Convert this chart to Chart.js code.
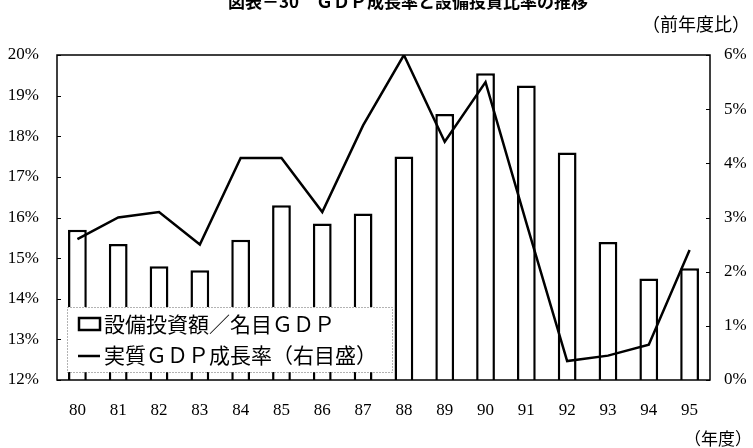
<!DOCTYPE html>
<html>
<head>
<meta charset="utf-8">
<script src="https://cdn.jsdelivr.net/npm/chart.js@4/dist/chart.umd.min.js"></script>
<style>
  html, body { margin: 0; padding: 0; background: #fff; }
  #wrap { width: 753px; height: 448px; position: relative; }
</style>
</head>
<body>
<div id="wrap"><canvas id="chart" width="753" height="448"></canvas></div>
<script>
'use strict';

// fiscal years (19xx)
const YEARS = ['80', '81', '82', '83', '84', '85', '86', '87', '88', '89', '90', '91', '92', '93', '94', '95'];
// 設備投資額／名目GDP (%), left axis
const INVEST_RATIO = [15.7, 15.35, 14.8, 14.7, 15.45, 16.3, 15.85, 16.1, 17.5, 18.55, 19.55, 19.25, 17.6, 15.4, 14.5, 14.75];
// 実質GDP成長率 (%), right axis
const REAL_GDP_GROWTH = [2.6, 3.0, 3.1, 2.5, 4.1, 4.1, 3.1, 4.7, 6.0, 4.4, 5.5, 2.9, 0.35, 0.45, 0.65, 2.4];

const LEFT_TICKS = [12, 13, 14, 15, 16, 17, 18, 19, 20];
const RIGHT_TICKS = [0, 1, 2, 3, 4, 5, 6];

const TITLE = '図表－30　ＧＤＰ成長率と設備投資比率の推移';
const UNIT_TOP = '（前年度比）';
const UNIT_BOTTOM = '（年度）';
const LEGEND_BAR = '設備投資額／名目ＧＤＰ';
const LEGEND_LINE = '実質ＧＤＰ成長率（右目盛）';

const JP_FONT = '"Noto Sans CJK JP", "Noto Sans", sans-serif';
const NUM_FONT = '"Liberation Serif", "DejaVu Serif", serif';

const frameAndLabels = {
  id: 'frameAndLabels',
  afterDatasetsDraw(chart) {
    const { ctx, chartArea: a, scales } = chart;
    ctx.save();

    // plot frame
    ctx.strokeStyle = '#000';
    ctx.lineWidth = 1.5;
    ctx.strokeRect(a.left, a.top, a.right - a.left, a.bottom - a.top);

    // inner tick marks
    ctx.lineWidth = 1;
    for (const v of LEFT_TICKS) {
      const y = Math.round(scales.y.getPixelForValue(v)) + 0.5;
      ctx.beginPath();
      ctx.moveTo(a.left, y);
      ctx.lineTo(a.left + 4, y);
      ctx.stroke();
    }
    for (const v of RIGHT_TICKS) {
      const y = Math.round(scales.y1.getPixelForValue(v)) + 0.5;
      ctx.beginPath();
      ctx.moveTo(a.right, y);
      ctx.lineTo(a.right - 4, y);
      ctx.stroke();
    }

    // legend box
    const bx = 67, by = 307, bw = 325, bh = 65;
    ctx.fillStyle = '#fff';
    ctx.fillRect(bx, by, bw, bh);
    ctx.strokeStyle = '#666';
    ctx.setLineDash([1, 2]);
    ctx.strokeRect(bx + 0.5, by + 0.5, bw, bh);
    ctx.setLineDash([]);

    ctx.strokeStyle = '#000';
    ctx.lineWidth = 2.5;
    ctx.strokeRect(79, 318, 21, 12);
    ctx.beginPath();
    ctx.moveTo(78, 356);
    ctx.lineTo(100, 356);
    ctx.stroke();

    ctx.fillStyle = '#000';
    ctx.font = '21px ' + JP_FONT;
    ctx.textAlign = 'left';
    ctx.textBaseline = 'middle';
    ctx.fillText(LEGEND_BAR, 104, 324);
    ctx.fillText(LEGEND_LINE, 104, 355);

    ctx.restore();
  },
  afterDraw(chart) {
    const { ctx } = chart;
    ctx.save();
    ctx.fillStyle = '#000';
    ctx.textBaseline = 'alphabetic';

    ctx.font = 'bold 17px ' + JP_FONT;
    ctx.textAlign = 'center';
    ctx.fillText(TITLE, 408, 8);

    ctx.font = '18px ' + JP_FONT;
    ctx.textAlign = 'right';
    ctx.fillText(UNIT_TOP, 750, 31);

    ctx.font = '17px ' + JP_FONT;
    ctx.fillText(UNIT_BOTTOM, 752, 445);
    ctx.restore();
  },
};

const chartConfig = {
  type: 'bar',
  data: {
    labels: YEARS,
    datasets: [
      {
        type: 'line',
        label: LEGEND_LINE,
        data: REAL_GDP_GROWTH,
        yAxisID: 'y1',
        borderColor: '#000',
        borderWidth: 2.5,
        pointRadius: 0,
        tension: 0,
        fill: false,
        order: 0,
      },
      {
        type: 'bar',
        label: LEGEND_BAR,
        data: INVEST_RATIO,
        yAxisID: 'y',
        backgroundColor: '#fff',
        borderColor: '#000',
        borderWidth: 2.5,
        barPercentage: 0.46,
        categoryPercentage: 1,
        order: 1,
      },
    ],
  },
  options: {
    responsive: false,
    animation: false,
    layout: { padding: { top: 55, left: 0, right: 0, bottom: 0 } },
    plugins: {
      legend: { display: false },
      tooltip: { enabled: false },
      title: { display: false },
    },
    scales: {
      x: {
        grid: { display: false, drawTicks: false },
        border: { display: false },
        ticks: {
          color: '#000',
          padding: 20,
          font: { family: NUM_FONT, size: 17 },
          maxRotation: 0,
        },
        afterFit(s) { s.height = 68; },
      },
      y: {
        position: 'left',
        min: 12,
        max: 20,
        grid: { display: false, drawTicks: false },
        border: { display: false },
        ticks: {
          stepSize: 1,
          color: '#000',
          padding: 18,
          font: { family: NUM_FONT, size: 17 },
          callback: (v) => v + '%',
        },
        afterFit(s) { s.width = 57; },
      },
      y1: {
        position: 'right',
        min: 0,
        max: 6,
        grid: { display: false, drawTicks: false },
        border: { display: false },
        ticks: {
          stepSize: 1,
          color: '#000',
          padding: 14,
          font: { family: NUM_FONT, size: 17 },
          callback: (v) => v + '%',
        },
        afterFit(s) { s.width = 43; },
      },
    },
  },
  plugins: [frameAndLabels],
};

new Chart(document.getElementById('chart'), chartConfig);
</script>
</body>
</html>
